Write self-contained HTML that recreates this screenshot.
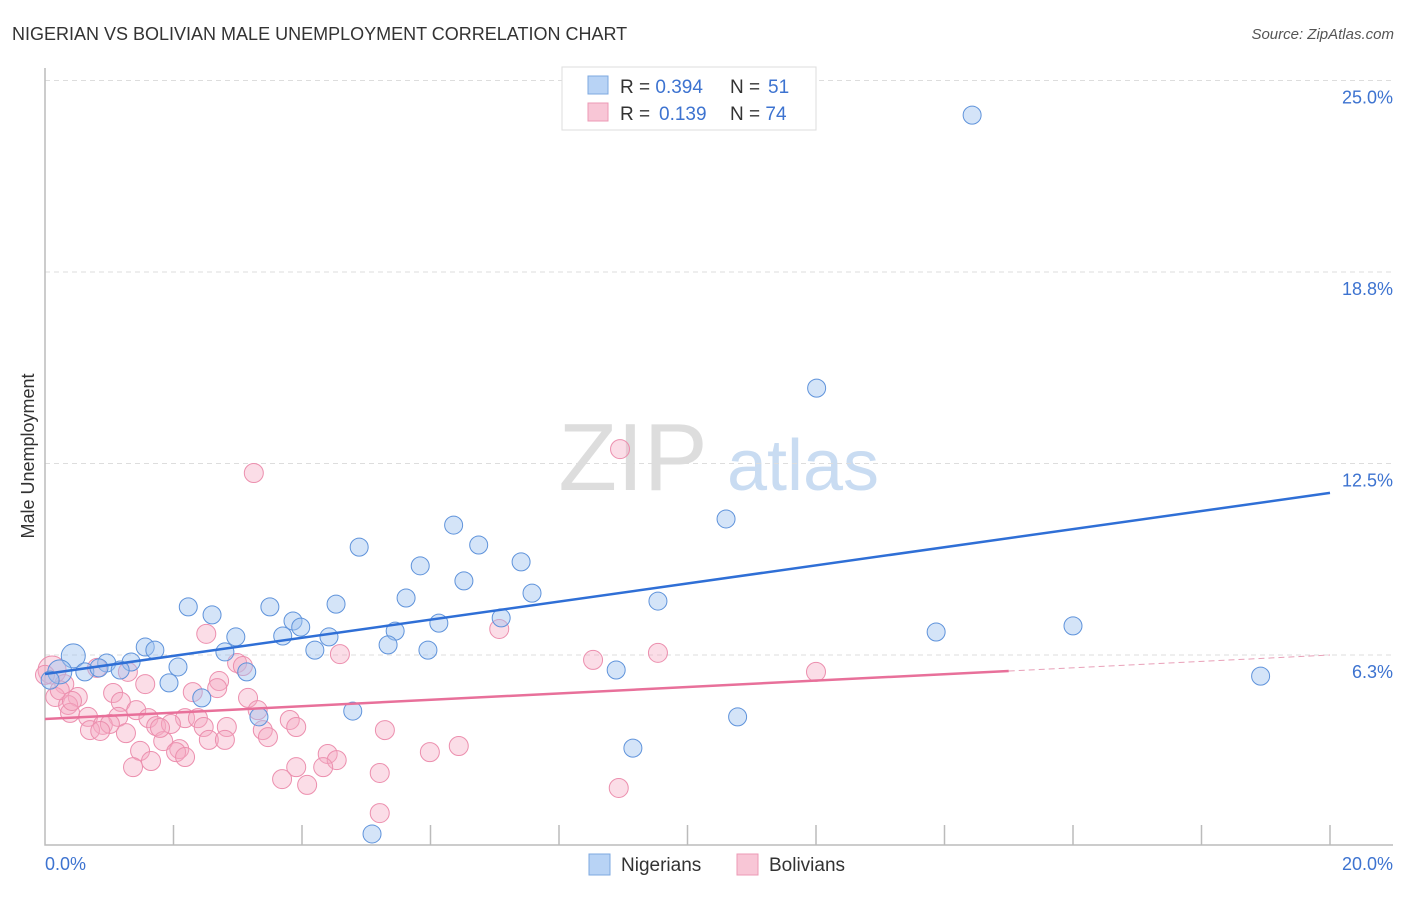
<!DOCTYPE html>
<html><head><meta charset="utf-8"><style>
body{margin:0;background:#fff;font-family:"Liberation Sans",sans-serif;}
svg text{font-family:"Liberation Sans",sans-serif;}
</style></head><body>
<svg id="c" width="1406" height="892">
<text x="12" y="40" font-size="18" fill="#333">NIGERIAN VS BOLIVIAN MALE UNEMPLOYMENT CORRELATION CHART</text>
<text x="1394" y="39" font-size="15" fill="#555" font-style="italic" text-anchor="end">Source: ZipAtlas.com</text>
<text x="34" y="456" font-size="18" fill="#333" transform="rotate(-90 34 456)" text-anchor="middle">Male Unemployment</text>
<g><text x="633" y="490" font-size="96" fill="#ddd" font-family="Liberation Serif" text-anchor="middle">ZIP</text><text x="803" y="490" font-size="72" fill="#c9dcf2" text-anchor="middle">atlas</text></g>
<g id="grid"></g><g id="axes"></g><g id="pts"></g><g id="lines"></g>
<g>
<rect x="562" y="67" width="254" height="63" fill="#fff" stroke="#ddd"/>
<rect x="588" y="76" width="20" height="18" fill="#b8d3f5" stroke="#7ea8e0"/>
<rect x="588" y="103" width="20" height="18" fill="#f8c6d6" stroke="#ec9ab5"/>
<text x="620" y="93" font-size="19" fill="#333">R = <tspan fill="#3d73d0">0.394</tspan><tspan x="730">N = </tspan><tspan fill="#3d73d0" x="768">51</tspan></text>
<text x="620" y="120" font-size="19" fill="#333">R = <tspan fill="#3d73d0" x="659">0.139</tspan><tspan x="730">N = </tspan><tspan fill="#3d73d0">74</tspan></text>
</g>
<g>
<rect x="589" y="854" width="21" height="21" fill="#b8d3f5" stroke="#7ea8e0"/>
<text x="621" y="871" font-size="19" fill="#333">Nigerians</text>
<rect x="737" y="854" width="21" height="21" fill="#f8c6d6" stroke="#ec9ab5"/>
<text x="769" y="871" font-size="19" fill="#333">Bolivians</text>
</g>
</svg>
<script>
const yTicks=[25,18.75,12.5,6.25];
const yTickLabels=["25.0%","18.8%","12.5%","6.3%"];
const xTicks=[0,2,4,6,8,10,12,14,16,18,20];
const nigX=[14.43,12.01,10.60,6.36,6.75,4.89,7.41,5.84,6.52,7.58,5.62,9.54,2.23,3.50,4.53,2.60,3.86,7.10,3.98,6.13,5.45,2.97,3.70,4.42,13.87,16.00,5.34,5.96,4.20,1.56,1.71,2.80,0.44,0.96,2.07,1.34,1.17,3.14,8.89,18.92,0.23,0.08,0.62,1.93,2.44,3.33,4.79,10.78,9.15,5.09,0.84];
const nigY=[23.87,14.96,10.69,10.49,9.84,9.77,9.29,9.16,8.67,8.27,8.11,8.01,7.82,7.82,7.91,7.56,7.36,7.46,7.16,7.29,7.03,6.84,6.87,6.84,7.0,7.2,6.58,6.41,6.41,6.51,6.41,6.35,6.22,5.99,5.86,6.02,5.76,5.70,5.76,5.56,5.70,5.43,5.70,5.34,4.85,4.23,4.42,4.23,3.21,0.41,5.83];
const bolX=[3.25,8.95,7.07,2.51,4.59,8.53,9.54,12.0,2.99,3.08,0.81,1.29,0.11,0.30,0.16,0.51,1.56,2.71,2.68,1.06,2.30,3.16,1.18,0.36,0.39,1.42,3.31,0.67,1.14,1.61,2.18,2.38,3.81,0.90,1.01,1.73,1.96,2.47,2.83,3.91,0.70,0.86,1.26,3.39,3.47,5.29,1.84,2.55,2.80,2.09,1.48,2.04,2.18,4.40,4.54,6.44,5.99,1.65,1.37,3.91,4.33,5.21,3.69,4.08,5.21,8.93,0.23,0.42,0.0,1.79];
const bolY=[12.19,12.97,7.10,6.94,6.28,6.09,6.32,5.70,5.99,5.89,5.83,5.70,5.76,5.30,4.88,4.88,5.30,5.40,5.17,5.01,5.04,4.85,4.72,4.62,4.36,4.45,4.45,4.23,4.23,4.19,4.19,4.19,4.13,3.97,4.00,3.93,4.00,3.90,3.90,3.90,3.80,3.77,3.70,3.80,3.57,3.80,3.44,3.48,3.48,3.18,3.12,3.08,2.92,3.02,2.82,3.28,3.08,2.79,2.59,2.59,2.59,2.40,2.20,2.01,1.09,1.91,5.1,4.75,5.6,3.87];
const nigTrend=[5.63,11.54];
const bolTrend=[4.16,6.25];
const NS="http://www.w3.org/2000/svg";
const X=v=>45+v/20*1285, Y=v=>655-(v-6.25)*30.64;
function mk(t,a,p){const e=document.createElementNS(NS,t);for(const k in a)e.setAttribute(k,a[k]);p.appendChild(e);return e;}
const grid=document.getElementById('grid'),axes=document.getElementById('axes'),pts=document.getElementById('pts'),lines=document.getElementById('lines');
yTicks.forEach((v,i)=>{
 const l=mk('line',{x1:45,x2:1393,y1:Y(v),y2:Y(v),stroke:'#ddd','stroke-dasharray':'5,4'},grid);
 
 
 const t=mk('text',{x:1393,y:Y(v)+23,'font-size':18,fill:'#3d73d0','text-anchor':'end'},grid);
 t.textContent=yTickLabels[i];
 
 
});
const ax=mk('path',{d:'M45,68V845H1393',fill:'none',stroke:'#bbb','stroke-width':1.5},axes);


xTicks.forEach(v=>{if(v>0){const t=mk('line',{x1:X(v),x2:X(v),y1:825,y2:845,stroke:'#bbb','stroke-width':1.5},axes);
 
 }});
const xl0=mk('text',{x:45,y:870,'font-size':18,fill:'#3d73d0'},axes);xl0.textContent='0.0%';


const xl1=mk('text',{x:1393,y:870,'font-size':18,fill:'#3d73d0','text-anchor':'end'},axes);xl1.textContent='20.0%';


bolX.forEach((x,i)=>{const c=mk('circle',{cx:X(x),cy:Y(bolY[i]),r:i==12?14:9.5,fill:'rgba(245,170,195,0.4)',stroke:'#ec8fae','stroke-width':1},pts);
 
 });
nigX.forEach((x,i)=>{const c=mk('circle',{cx:X(x),cy:Y(nigY[i]),r:(i==32||i==40)?12:9,fill:'rgba(160,195,240,0.45)',stroke:'#5f93db','stroke-width':1},pts);
 
 });
const at=(t,x)=>t[0]+(t[1]-t[0])*x/20;
let l=mk('line',{x1:X(0),y1:Y(at(nigTrend,0)),x2:X(20),y2:Y(at(nigTrend,20)),stroke:'#2f6fd6','stroke-width':2.5},lines);


l=mk('line',{x1:X(0),y1:Y(at(bolTrend,0)),x2:X(15),y2:Y(at(bolTrend,15)),stroke:'#e8709a','stroke-width':2.5},lines);


l=mk('line',{x1:X(15),y1:Y(at(bolTrend,15)),x2:X(20),y2:Y(at(bolTrend,20)),stroke:'#e8a0b8','stroke-width':1,'stroke-dasharray':'6,4'},lines);


</script>
</body></html>
